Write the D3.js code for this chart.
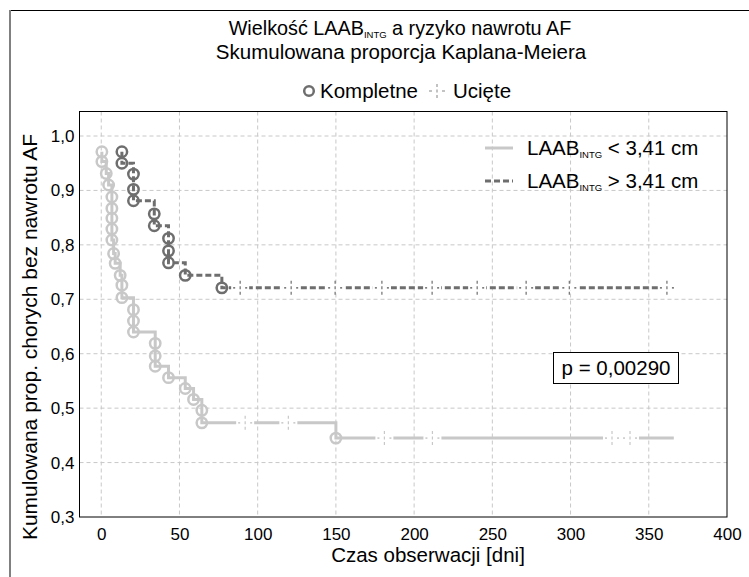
<!DOCTYPE html>
<html>
<head>
<meta charset="utf-8">
<script src="https://cdn.jsdelivr.net/npm/d3@7"></script>
<style>
  body { margin: 0; background: #fff; }
  text { font-family: "Liberation Sans", Arial, sans-serif; fill: #000; }
</style>
</head>
<body>
<div id="chart"></div>
<script>
// event circles (Kompletne): time [days] and cumulative proportion after the event
const smallTimes = [0.4, 0.4, 3.2, 4.7, 6.8, 6.8, 6.8, 6.8, 6.8, 7.9, 8.9, 12.1, 13.2, 13.2,
  20.6, 20.6, 20.6, 34.5, 34.5, 34.5, 43, 53.7, 59, 64.3, 64.3, 150];
const smallSurv = [0.971, 0.953, 0.931, 0.910, 0.888, 0.867, 0.849, 0.829, 0.809, 0.784, 0.766,
  0.744, 0.726, 0.703, 0.681, 0.660, 0.640, 0.619, 0.596, 0.577, 0.556, 0.536, 0.516, 0.496, 0.473, 0.445];
const bigTimes = [13.2, 13.2, 20.6, 20.6, 20.6, 33.9, 33.9, 43, 43, 43, 53.7, 77.1];
const bigSurv = [0.971, 0.950, 0.930, 0.902, 0.881, 0.857, 0.835, 0.812, 0.789, 0.767, 0.744, 0.721];
// censored observations (Ucięte)
const smallCensor = [92, 119.6, 181, 211.7, 326.5, 338];
const bigCensor = [88.8, 121.4, 149.5, 179.4, 211.5, 240.3, 271.6, 299.2, 361.6];
const smallEnd = 366;
const bigEnd = 365.5;

const xTicks = [0, 50, 100, 150, 200, 250, 300, 350, 400];
const yTicks = [0.3, 0.4, 0.5, 0.6, 0.7, 0.8, 0.9, 1.0];
const pValue = "p = 0,00290";

const width = 749, height = 577;
const fs = 20.5; // main text size
const fmt = d => d3.format(".1f")(d).replace(".", ",");

const svg = d3.select("#chart").append("svg")
  .attr("width", width).attr("height", height);

// outer frame
svg.append("line").attr("x1", 10).attr("x2", width).attr("y1", 10.5).attr("y2", 10.5)
  .attr("stroke", "#000").attr("stroke-width", 1);
svg.append("line").attr("x1", 10).attr("x2", 10).attr("y1", 10).attr("y2", height)
  .attr("stroke", "#808080").attr("stroke-width", 2);

const x = d3.scaleLinear().domain([-13.9, 400]).range([79.5, 727]);
const y = d3.scaleLinear().domain([0.3, 1.0]).range([517, 136]);
const plotTop = 111.5;

const grid = svg.append("g");
grid.selectAll("line.gx").data(xTicks.filter(d => d < 400)).enter().append("line")
  .attr("x1", d => x(d)).attr("x2", d => x(d)).attr("y1", plotTop).attr("y2", y(0.3))
  .attr("stroke", "#c8c8c8").attr("stroke-dasharray", "4,3");
grid.selectAll("line.gy").data(yTicks.filter(d => d > 0.3)).enter().append("line")
  .attr("x1", x.range()[0]).attr("x2", x.range()[1]).attr("y1", d => y(d)).attr("y2", d => y(d))
  .attr("stroke", "#c8c8c8").attr("stroke-dasharray", "4,3");

// axes
const xAxis = svg.append("g").attr("transform", `translate(0,${y(0.3)})`)
  .call(d3.axisBottom(x).tickValues(xTicks).tickSize(0).tickPadding(11));
const yAxis = svg.append("g").attr("transform", `translate(${x.range()[0]},0)`)
  .call(d3.axisLeft(y).tickValues(yTicks).tickFormat(fmt).tickSize(0).tickPadding(5));
[xAxis, yAxis].forEach(a => {
  a.select(".domain").remove();
  a.selectAll("text").attr("font-size", "17px").attr("font-family", "Liberation Sans, Arial, sans-serif");
});

svg.append("rect").attr("x", x.range()[0]).attr("y", plotTop)
  .attr("width", x.range()[1] - x.range()[0]).attr("height", y(0.3) - plotTop)
  .attr("fill", "none").attr("stroke", "#000").attr("stroke-width", 1);

// series
const series = [
  { times: smallTimes, surv: smallSurv, censor: smallCensor, end: smallEnd, color: "#c8c8c8", dash: null },
  { times: bigTimes, surv: bigSurv, censor: bigCensor, end: bigEnd, color: "#6e6e6e", dash: "6,3" }
];

const stepLine = d3.line().x(d => x(d[0])).y(d => y(d[1])).curve(d3.curveStepAfter);

function levelAt(s, t) {
  let v = s.surv[0];
  s.times.forEach((ti, i) => { if (ti <= t) v = s.surv[i]; });
  return v;
}

series.forEach(s => {
  const pts = s.times.map((t, i) => [t, s.surv[i]]);
  pts.push([s.end, s.surv[s.surv.length - 1]]);
  svg.append("path").attr("d", stepLine(pts))
    .attr("fill", "none").attr("stroke", s.color).attr("stroke-width", 3)
    .attr("stroke-dasharray", s.dash);

  // censor marks
  const cg = svg.append("g");
  s.censor.forEach(t => {
    const cx = x(t), cy = y(levelAt(s, t));
    cg.append("rect").attr("x", cx - 9).attr("y", cy - 2.5).attr("width", 18).attr("height", 5).attr("fill", "#fff");
    cg.append("line").attr("x1", cx - 7).attr("x2", cx - 5).attr("y1", cy).attr("y2", cy)
      .attr("stroke", s.color).attr("stroke-width", 1.5);
    cg.append("line").attr("x1", cx + 5).attr("x2", cx + 7).attr("y1", cy).attr("y2", cy)
      .attr("stroke", s.color).attr("stroke-width", 1.5);
    cg.append("line").attr("x1", cx).attr("x2", cx).attr("y1", cy - 7).attr("y2", cy + 7)
      .attr("stroke", s.color).attr("stroke-width", 1.2).attr("stroke-dasharray", "3,2.5");
  });

  svg.append("g").selectAll("circle").data(pts.slice(0, -1)).enter().append("circle")
    .attr("cx", d => x(d[0])).attr("cy", d => y(d[1])).attr("r", 5.2)
    .attr("fill", "none").attr("stroke", s.color).attr("stroke-width", 2.5);
});

// text with a subscript part
function labelWithSub(g, xPos, yPos, parts, size, anchor) {
  const t = g.append("text").attr("x", xPos).attr("y", yPos).attr("font-size", size + "px")
    .attr("text-anchor", anchor);
  parts.forEach(p => {
    if (p.sub) {
      t.append("tspan").attr("font-size", "9.5px").attr("dy", 3).text(p.sub);
    } else {
      t.append("tspan").attr("dy", p.after ? -3 : 0).text(p.text);
    }
  });
  return t;
}

labelWithSub(svg, 400, 35, [{ text: "Wielkość LAAB" }, { sub: "INTG" }, { text: " a ryzyko nawrotu AF", after: true }], 19.8, "middle");
svg.append("text").attr("x", 401).attr("y", 59).attr("font-size", fs + "px")
  .attr("text-anchor", "middle").text("Skumulowana proporcja Kaplana-Meiera");

// top legend
svg.append("circle").attr("cx", 309).attr("cy", 91).attr("r", 4.8)
  .attr("fill", "none").attr("stroke", "#6e6e6e").attr("stroke-width", 2.5);
svg.append("text").attr("x", 320).attr("y", 98).attr("font-size", fs + "px").text("Kompletne");
const lc = svg.append("g").attr("stroke", "#9a9a9a");
lc.append("line").attr("x1", 429).attr("x2", 432).attr("y1", 91).attr("y2", 91).attr("stroke-width", 1.2);
lc.append("line").attr("x1", 442).attr("x2", 445).attr("y1", 91).attr("y2", 91).attr("stroke-width", 1.2);
lc.append("line").attr("x1", 437).attr("x2", 437).attr("y1", 84).attr("y2", 98)
  .attr("stroke-width", 1.2).attr("stroke-dasharray", "3,2.5");
svg.append("text").attr("x", 453).attr("y", 98).attr("font-size", fs + "px").text("Ucięte");

// series legend
const legendRows = [
  { label: "< 3,41 cm", color: "#c8c8c8", dash: null },
  { label: "> 3,41 cm", color: "#6e6e6e", dash: "6,3" }
];
legendRows.forEach((r, i) => {
  const ly = 148 + i * 33;
  svg.append("line").attr("x1", 485).attr("x2", 513).attr("y1", ly).attr("y2", ly)
    .attr("stroke", r.color).attr("stroke-width", 3).attr("stroke-dasharray", r.dash);
  labelWithSub(svg, 527, ly + 7, [{ text: "LAAB" }, { sub: "INTG" }, { text: " " + r.label, after: true }], fs, "start");
});

// p value box
svg.append("rect").attr("x", 553.5).attr("y", 352.5).attr("width", 125).attr("height", 31)
  .attr("fill", "#fff").attr("stroke", "#000").attr("stroke-width", 1);
svg.append("text").attr("x", 616).attr("y", 375).attr("font-size", fs + "px")
  .attr("text-anchor", "middle").text(pValue);

// axis titles
svg.append("text").attr("x", 428).attr("y", 562).attr("font-size", fs + "px")
  .attr("text-anchor", "middle").text("Czas obserwacji [dni]");
svg.append("text").attr("transform", "translate(37,337) rotate(-90)").attr("font-size", "21px")
  .attr("text-anchor", "middle").text("Kumulowana prop. chorych bez nawrotu AF");
</script>
</body>
</html>
